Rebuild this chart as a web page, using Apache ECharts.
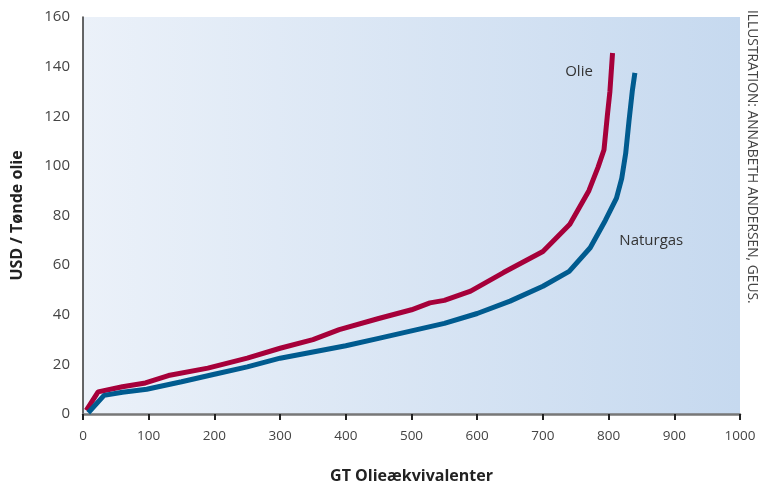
<!DOCTYPE html>
<html>
<head>
<meta charset="utf-8">
<script src="https://cdn.jsdelivr.net/npm/echarts@6/dist/echarts.min.js"></script>
<style>
  html, body { margin: 0; padding: 0; background: #fff; }
  #chart { width: 767px; height: 484px; }
</style>
</head>
<body>
<div id="chart"></div>
<script>
// olie
const olieX = [5, 23, 60, 95, 130, 190, 250, 300, 350, 390, 450, 500, 528, 550, 590, 640, 700, 741, 770, 784, 793, 798, 802, 806]
const olieY = [1.5, 8.9, 11, 12.5, 15.5, 18.5, 22.5, 26.5, 30, 34, 38.5, 42, 44.8, 45.8, 49.5, 57, 65.5, 76.5, 90, 99.5, 106.5, 120, 130, 145.5]
// naturgas
const gasX = [8, 32, 60, 97, 150, 200, 250, 300, 350, 400, 450, 500, 550, 600, 650, 700, 740, 772, 795, 812, 820, 826, 831, 836, 840]
const gasY = [0.5, 7.5, 8.8, 10, 13, 16, 19, 22.5, 25, 27.5, 30.5, 33.5, 36.5, 40.5, 45.5, 51.5, 57.5, 67, 78, 87, 95, 105, 118, 130, 137.5]

const xTicks = [0, 100, 200, 300, 400, 500, 600, 700, 800, 900, 1000]
const yTicks = [0, 20, 40, 60, 80, 100, 120, 140, 160]

const pairs = (xs, ys) => xs.map((x, i) => [x, ys[i]])

const font = 'Open Sans'
const chart = echarts.init(document.getElementById('chart'))

chart.setOption({
  animation: false,
  textStyle: { fontFamily: font },
  grid: {
    left: 83, right: 27, top: 17, bottom: 70,
    outerBoundsMode: 'none',
    containLabel: false,
    show: true,
    borderWidth: 0,
    backgroundColor: new echarts.graphic.LinearGradient(0, 0, 1, 0, [
      { offset: 0, color: '#ebf1f9' },
      { offset: 1, color: '#c6d9ef' }
    ])
  },
  xAxis: {
    type: 'value',
    min: 0, max: 1000, interval: 100,
    name: 'GT Olieækvivalenter',
    nameLocation: 'middle',
    nameGap: 54,
    nameTextStyle: { fontSize: 16, fontWeight: 'bold', color: '#222' },
    axisLine: { lineStyle: { color: '#777', width: 2.5 } },
    axisTick: { show: true, length: 6, lineStyle: { color: '#222', width: 2 } },
    axisLabel: { fontSize: 13.5, color: '#444', margin: 15,
      formatter: v => xTicks.includes(v) ? String(v) : '' },
    splitLine: { show: false }
  },
  yAxis: {
    type: 'value',
    min: 0, max: 160, interval: 20,
    name: 'USD / Tønde olie',
    nameLocation: 'middle',
    nameGap: 58,
    nameTextStyle: { fontSize: 16, fontWeight: 'bold', color: '#222' },
    axisLine: { show: true, lineStyle: { color: '#333', width: 1.5 } },
    axisTick: { show: false },
    axisLabel: { fontSize: 15, color: '#444', margin: 13,
      formatter: v => yTicks.includes(v) ? String(v) : '' },
    splitLine: { show: false }
  },
  graphic: [
    {
      type: 'text',
      x: 752, y: 10,
      rotation: -Math.PI / 2,
      style: {
        text: 'ILLUSTRATION: ANNABETH ANDERSEN, GEUS.',
        font: '13.8px "Open Sans"',
        fill: '#444',
        textAlign: 'left',
        textVerticalAlign: 'middle'
      }
    }
  ],
  series: [
    {
      name: 'Olie',
      type: 'line',
      data: pairs(olieX, olieY),
      symbol: 'none',
      lineStyle: { color: '#a6003a', width: 5 },
      markPoint: {
        symbol: 'circle', symbolSize: 0,
        label: { show: true, formatter: 'Olie', color: '#333', fontSize: 15, position: 'inside' },
        data: [{ coord: [755, 138] }]
      }
    },
    {
      name: 'Naturgas',
      type: 'line',
      data: pairs(gasX, gasY),
      symbol: 'none',
      lineStyle: { color: '#005b8f', width: 5 },
      markPoint: {
        symbol: 'circle', symbolSize: 0,
        label: { show: true, formatter: 'Naturgas', color: '#333', fontSize: 15, position: 'inside' },
        data: [{ coord: [865, 70] }]
      }
    }
  ]
})
</script>
</body>
</html>
